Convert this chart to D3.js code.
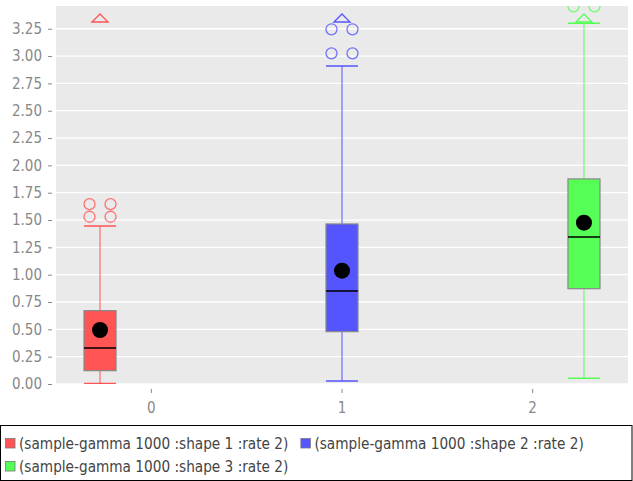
<!DOCTYPE html>
<html>
<head>
<meta charset="utf-8">
<script src="https://cdn.jsdelivr.net/npm/d3@7"></script>
<style>
  body { margin: 0; background: #fff; }
  svg { display: block; }
  .tick text { fill: #888; font-family: 'DejaVu Sans Condensed', 'DejaVu Sans', sans-serif; font-size: 15px; }
  .tick line { stroke: #888; }
  .legend text { font-family: 'DejaVu Sans Condensed', 'DejaVu Sans', sans-serif; font-size: 15.2px; fill: #444; }
</style>
</head>
<body>
<div class="box_chart"></div>
<script>
const WIDTH = 633;
const HEIGHT = 481;
const PLOT = { left: 56, right: 628, top: 6, bottom: 384 };

// data
const categories = ['0', '1', '2'];
const seriesNames = [
	'(sample-gamma 1000 :shape 1 :rate 2)',
	'(sample-gamma 1000 :shape 2 :rate 2)',
	'(sample-gamma 1000 :shape 3 :rate 2)'
];
const seriesColors = ['#ff5555', '#5555ff', '#55ff55'];
const whiskerLow = [0.0, 0.027, 0.052];
const q1 = [0.122, 0.479, 0.872];
const median = [0.33, 0.851, 1.345];
const mean = [0.494, 1.037, 1.476];
const q3 = [0.671, 1.464, 1.876];
const whiskerHigh = [1.446, 2.909, 3.30];
const outliers = [
	[1.53, 1.53, 1.645, 1.645],
	[3.025, 3.025, 3.245, 3.245],
	[3.455, 3.455]
];
const farOutHigh = [true, true, true];
const yTicks = d3.range(0, 3.26, 0.25);
const yMax = 3.458;

const svg = d3
	.select('.box_chart')
	.append('svg')
	.attr('width', WIDTH)
	.attr('height', HEIGHT);

const xScale = d3
	.scaleBand()
	.domain(categories)
	.range([PLOT.left, PLOT.right])
	.padding(0);

// series slots inside each category
const seriesScale = d3
	.scaleBand()
	.domain(d3.range(seriesNames.length))
	.range([0, xScale.bandwidth()])
	.paddingInner(0.376)
	.paddingOuter(0.546);

const yScale = d3
	.scaleLinear()
	.domain([0, yMax])
	.range([PLOT.bottom, PLOT.top]);

// plot background + gridlines
svg.append('rect')
	.attr('x', PLOT.left)
	.attr('y', PLOT.top)
	.attr('width', PLOT.right - PLOT.left)
	.attr('height', PLOT.bottom - PLOT.top)
	.attr('fill', '#eaeaea');

svg.append('g')
	.selectAll('line')
	.data(yTicks)
	.enter()
	.append('line')
	.attr('x1', PLOT.left)
	.attr('x2', PLOT.right)
	.attr('y1', d => yScale(d))
	.attr('y2', d => yScale(d))
	.attr('stroke', '#fff')
	.attr('stroke-width', 1.3);

svg.append('clipPath')
	.attr('id', 'plot-clip')
	.append('rect')
	.attr('x', PLOT.left)
	.attr('y', PLOT.top)
	.attr('width', PLOT.right - PLOT.left)
	.attr('height', PLOT.bottom - PLOT.top);

const plot = svg.append('g').attr('clip-path', 'url(#plot-clip)');

const boxW = seriesScale.bandwidth();
const cx = i => xScale(categories[i]) + seriesScale(i) + boxW / 2;

categories.forEach((c, i) => {
	const g = plot.append('g');
	const color = seriesColors[i];
	const x = cx(i);

	// whiskers
	g.append('line')
		.attr('x1', x).attr('x2', x)
		.attr('y1', yScale(q3[i])).attr('y2', yScale(whiskerHigh[i]))
		.attr('stroke', color);
	g.append('line')
		.attr('x1', x).attr('x2', x)
		.attr('y1', yScale(q1[i])).attr('y2', yScale(whiskerLow[i]))
		.attr('stroke', color);
	[whiskerHigh[i], whiskerLow[i]].forEach(v => {
		g.append('line')
			.attr('x1', x - boxW / 2).attr('x2', x + boxW / 2)
			.attr('y1', yScale(v) - (v === 0 ? 0.5 : 0))
			.attr('y2', yScale(v) - (v === 0 ? 0.5 : 0))
			.attr('stroke', color)
			.attr('stroke-width', 1.5);
	});

	// box
	g.append('rect')
		.attr('x', x - boxW / 2)
		.attr('y', yScale(q3[i]))
		.attr('width', boxW)
		.attr('height', yScale(q1[i]) - yScale(q3[i]))
		.attr('fill', color)
		.attr('stroke', '#888')
		.attr('stroke-width', 1.2);

	// median
	g.append('line')
		.attr('x1', x - boxW / 2).attr('x2', x + boxW / 2)
		.attr('y1', yScale(median[i])).attr('y2', yScale(median[i]))
		.attr('stroke', '#000')
		.attr('stroke-width', 1.5);

	// mean
	g.append('circle')
		.attr('cx', x)
		.attr('cy', yScale(mean[i]))
		.attr('r', boxW / 4)
		.attr('fill', '#000');

	// outliers, paired left/right
	g.selectAll('circle.outlier')
		.data(outliers[i])
		.enter()
		.append('circle')
		.attr('class', 'outlier')
		.attr('cx', (d, j) => x + (j % 2 === 0 ? -10.5 : 10.5))
		.attr('cy', d => yScale(d))
		.attr('r', 5.5)
		.attr('fill', 'none')
		.attr('stroke', color)
		.attr('stroke-opacity', 0.8)
		.attr('stroke-width', 1.3);

	// far-out marker
	if (farOutHigh[i]) {
		const ty = yScale(yMax) + 8;
		g.append('path')
			.attr('d', `M${x - 8},${ty + 8} L${x},${ty} L${x + 8},${ty + 8} Z`)
			.attr('fill', 'none')
			.attr('stroke', color)
			.attr('stroke-width', 1.3);
	}
});

// axes
const yAxis = d3.axisLeft(yScale)
	.tickValues(yTicks)
	.tickFormat(d3.format('.2f'))
	.tickSize(4)
	.tickPadding(6);

svg.append('g')
	.attr('id', 'y-axis')
	.attr('transform', 'translate(52, 0)')
	.call(yAxis)
	.call(g => g.select('.domain').remove());

const xAxis = d3.axisBottom(xScale)
	.tickSize(4)
	.tickPadding(9);

svg.append('g')
	.attr('id', 'x-axis')
	.attr('transform', 'translate(0, 389)')
	.call(xAxis)
	.call(g => g.select('.domain').remove());

// legend
const legend = svg.append('g').attr('class', 'legend');

legend.append('rect')
	.attr('x', 0.5)
	.attr('y', 425.5)
	.attr('width', WIDTH - 1.5)
	.attr('height', 55)
	.attr('fill', '#fff')
	.attr('stroke', '#000');

let lx = 5;
let ly = 438;
seriesNames.forEach((name, i) => {
	const item = legend.append('g');
	item.append('rect')
		.attr('x', 0.5)
		.attr('y', 0.5)
		.attr('width', 9.5)
		.attr('height', 9.5)
		.attr('fill', seriesColors[i])
		.attr('stroke', '#777')
		.attr('stroke-width', 0.8);
	const t = item.append('text')
		.attr('x', 14)
		.attr('y', 10.5)
		.text(name);
	const w = 14 + t.node().getComputedTextLength();
	if (lx + w > WIDTH - 4) {
		lx = 5;
		ly += 23;
	}
	item.attr('transform', `translate(${lx}, ${ly})`);
	lx += w + 12;
});
</script>
</body>
</html>
